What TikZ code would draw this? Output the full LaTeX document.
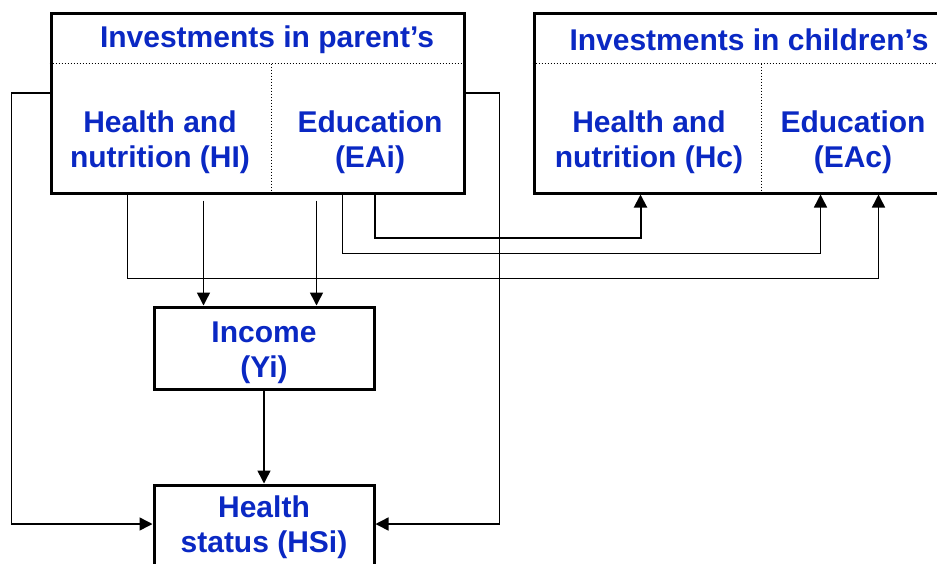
\documentclass[tikz,border=0pt]{standalone}
\usepackage{fontspec}
\setmainfont{Liberation Sans}
\usepackage{tikz}
\usetikzlibrary{calc,arrows.meta}
\definecolor{labelblue}{RGB}{10,40,195}

\begin{document}
\begin{tikzpicture}[x=1pt,y=-1pt,line width=1.5pt,>={Triangle[length=13pt,width=13pt]}]
    \tikzstyle{box}=[draw,line width=3pt,inner sep=0pt]
    \tikzstyle{label}=[text=labelblue,font=\fontsize{30}{35}\selectfont\bfseries,align=center,inner sep=0pt]
    \tikzstyle{split}=[dotted,line width=1pt]

    \useasboundingbox (0,0) rectangle (937,563);
    \clip (0,0) rectangle (937,563);

    % Draw the boxes
    \node[box,minimum width=413pt,minimum height=180pt] (P) at (257.5,103) {};
    \node[box,minimum width=466pt,minimum height=180pt] (C) at (767,103) {};
    \node[box,minimum width=220pt,minimum height=82pt] (I) at (264,348) {};
    \node[box,minimum width=220pt,minimum height=110pt] (HS) at (264,540) {};

    % Dotted splits inside the two top boxes
    \draw[split] ($(P.north west)+(0,52)$) -- ($(P.north east)+(0,52)$);
    \draw[split] ($(P.north west)+(222,52)$) -- ($(P.south west)+(222,0)$);
    \draw[split] ($(C.north west)+(0,52)$) -- ($(C.north east)+(0,52)$);
    \draw[split] ($(C.north west)+(229,52)$) -- ($(C.south west)+(229,0)$);

    % Labels
    \node[label] (P-title) at (267,40) {Investments in parent’s};
    \node[label] (P-H) at (160,142.5) {Health and\\nutrition (HI)};
    \node[label] (P-E) at (370,142.5) {Education\\(EAi)};
    \node[label] (C-title) at (749,40) {Investments in children’s};
    \node[label] (C-H) at (649,142.5) {Health and\\nutrition (Hc)};
    \node[label] (C-E) at (853,142.5) {Education\\(EAc)};
    \node[label] (I-text) at (264,353) {Income\\(Yi)};
    \node[label] (HS-text) at (264,527) {Health\\status (HSi)};

    % Parent's investments go to income
    \draw[->] ($(P.south west)+(154,6)$) -- ($(I.north west)+(51,0)$);
    \draw[->] ($(P.south west)+(267,6)$) -- ($(I.north west)+(164,0)$);

    % Income goes to health status
    \draw[->] (I) -- (HS);

    % Parent's investments go straight to health status
    \draw[->] ($(P.west)+(0,-10)$) -- ++(-38,0) |- ($(HS.west)+(0,-16)$);
    \draw[->] ($(P.east)+(0,-10)$) -- ++(34,0) |- ($(HS.east)+(0,-16)$);

    % Parent's investments go to children's investments
    \draw[->] ($(P.south west)+(78,0)$) -- ++(0,84) -| ($(C.south west)+(346,0)$);
    \draw[->] ($(P.south west)+(293,0)$) -- ++(0,59) -| ($(C.south west)+(288,0)$);
    \draw[->,line width=2pt] ($(P.south west)+(325,0)$) -- ++(0,43) -| ($(C.south west)+(108,0)$);
\end{tikzpicture}
\end{document}
